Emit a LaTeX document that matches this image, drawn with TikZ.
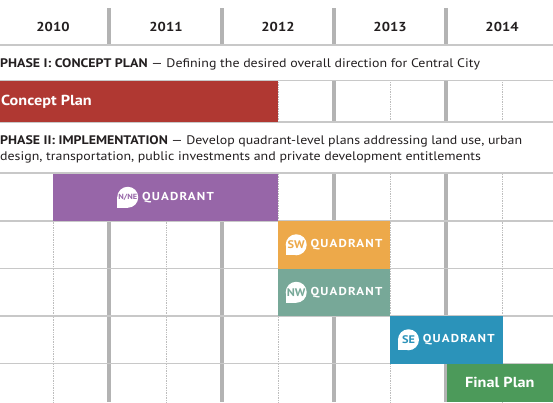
\documentclass[tikz,border=0pt]{standalone}
\usepackage{fontspec}
\setmainfont[FakeStretch=1.12]{PT Sans}
\newfontfamily\quadfont[FakeStretch=1.12, LetterSpace=10]{PT Sans}
\usetikzlibrary{positioning}

\definecolor{inkdark}{HTML}{231F20}
\definecolor{yeargray}{HTML}{B3B3B3}
\definecolor{rulegray}{HTML}{C8C8C8}
\definecolor{dotgray}{HTML}{BDBDBD}
\definecolor{conceptred}{HTML}{B03832}
\definecolor{nnepurple}{HTML}{9766A8}
\definecolor{sworange}{HTML}{EDA94A}
\definecolor{nwteal}{HTML}{77A898}
\definecolor{seblue}{HTML}{2B93BA}
\definecolor{finalgreen}{HTML}{4C9A5A}

% badge + QUADRANT centred on a bar
\newcommand{\quadlabel}[4]{%
  \node[quadtext] (#2q) at ([xshift=12.5pt]#1.center) {QUADRANT};
  \node[badge, left=3.5pt of #2q] (#2) {};
  \fill[white] (#2.west |- #2.south) rectangle (#2.center);
  \node[badgetext, text=#4] (#2t) at (#2.center) {#3};}

\begin{document}
\begin{tikzpicture}[x=1pt, y=-1pt,
    yearrule/.style={draw=yeargray, line width=3.5pt},
    halfrule/.style={draw=dotgray, densely dotted, line width=0.7pt},
    rowrule/.style={draw=rulegray, line width=1.1pt},
    yearlabel/.style={font=\bfseries\fontsize{13}{16}\selectfont, text=inkdark},
    phasetext/.style={font=\fontsize{12.4}{16.5}\selectfont, text=inkdark, inner sep=0pt},
    bar/.style={anchor=north west, inner sep=0pt, outer sep=0pt, draw=none},
    bartext/.style={font=\bfseries\fontsize{14.5}{16}\selectfont, text=white, inner sep=0pt},
    quadtext/.style={font=\quadfont\bfseries\fontsize{11.5}{14}\selectfont, text=white, inner sep=0pt},
    badge/.style={circle, fill=white, minimum size=21pt, inner sep=0pt},
    badgetext/.style={font=\bfseries\fontsize{11}{12}\selectfont, inner sep=0pt}]
\useasboundingbox[fill=white] (0,0) rectangle (553,402);

% year header
\foreach \yx in {109,222,334,446}
  \draw[yearrule] (\yx,8) -- (\yx,45);
\foreach \yr/\yc in {2010/53,2011/166,2012/278,2013/390,2014/502}
  \node[yearlabel] (y\yr) at (\yc,27) {\yr};

% grid behind the bars
\foreach \yx in {109,222,334,446} {
  \draw[yearrule] (\yx,81) -- (\yx,122);
  \draw[yearrule] (\yx,173) -- (\yx,402);
}
\foreach \hx in {53,166,278,390,502} {
  \draw[halfrule] (\hx,82) -- (\hx,121);
  \draw[halfrule] (\hx,174) -- (\hx,402);
}
\foreach \ry in {45,80.5,122,173,221,268.5,316,363.5}
  \draw[rowrule] (0,\ry) -- (553,\ry);

% phase headings
\node[phasetext, anchor=west] (phaseone) at (0,64)
  {\textbf{PHASE I: CONCEPT PLAN} --- Defining the desired overall direction for Central City};
\node[phasetext, anchor=north west, text width=522pt, align=justify] (phasetwo) at (0,135)
  {\textbf{PHASE II: IMPLEMENTATION} --- Develop quadrant-level plans addressing land use, urban\linebreak
   design, transportation, public investments and private development entitlements};

% bars
\node[bar, fill=conceptred, minimum width=278pt, minimum height=41pt] (concept) at (0,81) {};
\node[bar, fill=nnepurple, minimum width=225pt, minimum height=47.5pt] (nne) at (53,173.5) {};
\node[bar, fill=sworange, minimum width=112pt, minimum height=47.5pt] (sw) at (278,221) {};
\node[bar, fill=nwteal, minimum width=112pt, minimum height=47.5pt] (nw) at (278,268.5) {};
\node[bar, fill=seblue, minimum width=112.5pt, minimum height=47.5pt] (se) at (390,316) {};
\node[bar, fill=finalgreen, minimum width=106.5pt, minimum height=38.5pt] (final) at (446.5,363.5) {};

% bar labels
\node[bartext, anchor=west] (concepttext) at ([xshift=1pt]concept.west) {Concept Plan};
\node[bartext] (finaltext) at (final.center) {Final Plan};
\quadlabel{nne}{nnebadge}{\fontsize{7.5}{9}\selectfont N/NE}{nnepurple}
\quadlabel{sw}{swbadge}{SW}{sworange}
\quadlabel{nw}{nwbadge}{NW}{nwteal}
\quadlabel{se}{sebadge}{SE}{seblue}
\end{tikzpicture}
\end{document}
